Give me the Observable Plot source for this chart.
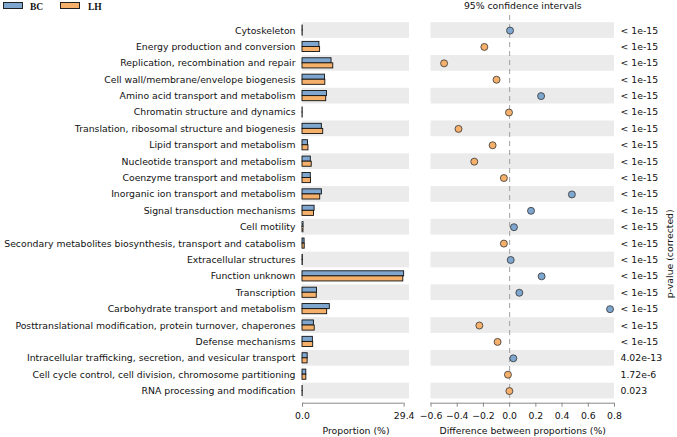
<!DOCTYPE html>
<html>
<head>
<meta charset="utf-8">
<script src="https://cdn.jsdelivr.net/npm/d3@7"></script>
<script src="https://cdn.jsdelivr.net/npm/@observablehq/plot@0.6"></script>
<style>
  html, body { margin: 0; padding: 0; background: #fff; }
  #wrap { position: relative; width: 677px; height: 437px; font-family: "DejaVu Sans", sans-serif; }
  #left { position: absolute; left: 0; top: 0; }
  #right { position: absolute; left: 420px; top: 0; }
  .leg { position: absolute; top: 2px; height: 5px; width: 18px; border: 1px solid #222; }
  .legt { position: absolute; top: 2px; font-family: "Liberation Serif", serif; font-weight: bold; font-size: 9.5px; color: #111; }
</style>
</head>
<body>
<div id="wrap">
  <div id="left"></div>
  <div id="right"></div>
  <div class="leg" style="left:3px; background:#7ea6ce;"></div>
  <div class="legt" style="left:30px;">BC</div>
  <div class="leg" style="left:60px; background:#f5b06b;"></div>
  <div class="legt" style="left:88px;">LH</div>
</div>
<script>
const categories = [
  "Cytoskeleton",
  "Energy production and conversion",
  "Replication, recombination and repair",
  "Cell wall/membrane/envelope biogenesis",
  "Amino acid transport and metabolism",
  "Chromatin structure and dynamics",
  "Translation, ribosomal structure and biogenesis",
  "Lipid transport and metabolism",
  "Nucleotide transport and metabolism",
  "Coenzyme transport and metabolism",
  "Inorganic ion transport and metabolism",
  "Signal transduction mechanisms",
  "Cell motility",
  "Secondary metabolites biosynthesis, transport and catabolism",
  "Extracellular structures",
  "Function unknown",
  "Transcription",
  "Carbohydrate transport and metabolism",
  "Posttranslational modification, protein turnover, chaperones",
  "Defense mechanisms",
  "Intracellular trafficking, secretion, and vesicular transport",
  "Cell cycle control, cell division, chromosome partitioning",
  "RNA processing and modification"
];
const groups = ["BC", "LH"];
const groupColors = ["#7ea6ce", "#f5b06b"];
const bcValues = [0.06, 4.90, 8.40, 6.50, 7.10, 0.05, 5.60, 1.60, 2.40, 2.40, 5.60, 3.50, 0.30, 0.60, 0.10, 29.40, 4.20, 7.90, 3.30, 3.00, 1.50, 1.10, 0.05];
const lhValues = [0.057, 5.09, 8.90, 6.60, 6.86, 0.055, 5.99, 1.73, 2.67, 2.44, 5.125, 3.337, 0.267, 0.644, 0.092, 29.156, 4.126, 7.134, 3.531, 3.092, 1.472, 1.113, 0.052];
const diffValues = [0.003, -0.193, -0.50, -0.10, 0.24, -0.005, -0.39, -0.13, -0.27, -0.044, 0.475, 0.163, 0.033, -0.044, 0.008, 0.244, 0.074, 0.766, -0.231, -0.092, 0.028, -0.013, -0.002];
const ciHalfWidths = [0.004, 0.006, 0.008, 0.007, 0.007, 0.002, 0.007, 0.004, 0.005, 0.005, 0.007, 0.006, 0.002, 0.003, 0.002, 0.013, 0.006, 0.008, 0.006, 0.005, 0.004, 0.003, 0.002];
const pValues = ["< 1e-15","< 1e-15","< 1e-15","< 1e-15","< 1e-15","< 1e-15","< 1e-15","< 1e-15","< 1e-15","< 1e-15","< 1e-15","< 1e-15","< 1e-15","< 1e-15","< 1e-15","< 1e-15","< 1e-15","< 1e-15","< 1e-15","< 1e-15","4.02e-13","1.72e-6","0.023"];
const propTicks = [0, 29.4];
const propDomain = [0, 30.95];
const diffTicks = [-0.6, -0.4, -0.2, 0.0, 0.2, 0.4, 0.6, 0.8];
const diffDomain = [-0.6, 0.8];
const rowDomain = [-0.92, 22.74];

const rows = categories.map((c, i) => ({
  i, c, bc: bcValues[i], lh: lhValues[i], diff: diffValues[i],
  lo: diffValues[i] - ciHalfWidths[i], hi: diffValues[i] + ciHalfWidths[i],
  p: pValues[i], grp: diffValues[i] > 0 ? groups[0] : groups[1]
}));
const striped = rows.filter(r => r.i % 2 === 0);
const BAR = 0.31;
const BAND = 0.48;
const fmt = d => d.toFixed(1).replace("-", "\u2212");
const baseStyle = {fontFamily: "DejaVu Sans", fontSize: "9.3px", color: "#111", background: "transparent", overflow: "visible"};

const left = Plot.plot({
  width: 420, height: 437,
  marginLeft: 302, marginRight: 11, marginTop: 15, marginBottom: 34.3,
  style: baseStyle,
  x: {domain: propDomain},
  y: {domain: rowDomain, reverse: true},
  marks: [
    Plot.rect(striped, {x1: propDomain[0], x2: propDomain[1], y1: d => d.i - BAND, y2: d => d.i + BAND, fill: "#ebebeb"}),
    Plot.rect(rows, {x1: 0, x2: "bc", y1: d => d.i - BAR, y2: d => d.i, fill: groupColors[0], stroke: "#111", strokeWidth: 0.9}),
    Plot.rect(rows, {x1: 0, x2: "lh", y1: d => d.i, y2: d => d.i + BAR, fill: groupColors[1], stroke: "#111", strokeWidth: 0.9}),
    Plot.ruleY([rowDomain[1]], {x1: propTicks[0], x2: propTicks[1], stroke: "#888"}),
    Plot.axisX(propTicks, {tickFormat: d => d.toFixed(1), tickSize: 4, tickPadding: 5, stroke: "#888", label: null}),
    Plot.axisY(rows.map(r => r.i), {tickFormat: i => categories[i], tickSize: 0, tickPadding: 7, label: null}),
    Plot.text(["Proportion (%)"], {frameAnchor: "bottom", dy: 31, text: d => d})
  ]
});
document.getElementById("left").appendChild(left);

const right = Plot.plot({
  width: 257, height: 437,
  marginLeft: 10.5, marginRight: 63, marginTop: 15, marginBottom: 34.3,
  style: baseStyle,
  x: {domain: diffDomain},
  y: {domain: rowDomain, reverse: true, axis: null},
  marks: [
    Plot.rect(striped, {x1: diffDomain[0], x2: diffDomain[1], y1: d => d.i - BAND, y2: d => d.i + BAND, fill: "#ebebeb"}),
    Plot.ruleX([0], {stroke: "#a0a0a0", strokeDasharray: "5,4"}),
    Plot.ruleY(rows, {x1: "lo", x2: "hi", y: "i", stroke: "#222", strokeWidth: 1.2}),
    Plot.dot(rows, {x: "diff", y: "i", r: 3.5, fill: d => d.diff > 0 ? groupColors[0] : groupColors[1], stroke: "#333", strokeWidth: 0.8}),
    Plot.ruleY([rowDomain[1]], {stroke: "#888"}),
    Plot.axisX(diffTicks, {tickFormat: fmt, tickSize: 4, tickPadding: 5, stroke: "#888", label: null}),
    Plot.text(rows, {y: "i", text: "p", frameAnchor: "right", textAnchor: "start", dx: 6}),
    Plot.text(["95% confidence intervals"], {frameAnchor: "top", dy: -13, text: d => d}),
    Plot.text(["Difference between proportions (%)"], {frameAnchor: "bottom", dy: 31, text: d => d}),
    Plot.text(["p-value (corrected)"], {frameAnchor: "right", dx: 56, rotate: -90, text: d => d})
  ]
});
document.getElementById("right").appendChild(right);
</script>
</body>
</html>
